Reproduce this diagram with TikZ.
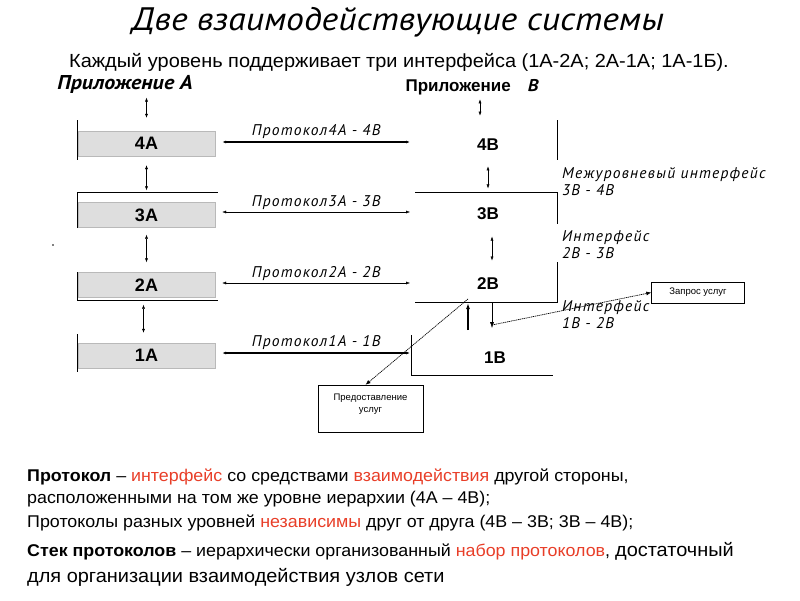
\documentclass[tikz,border=0pt]{standalone}
\usepackage{fontspec}
\setmainfont{Liberation Sans}
\newfontfamily\widefont[FakeStretch=1.05]{Liberation Sans}
\newfontfamily\cursivefont[FakeStretch=1.1]{PT Sans}
\newfontfamily\labelfont[LetterSpace=8]{PT Sans}
\usetikzlibrary{arrows.meta,positioning}
\definecolor{layergray}{RGB}{222,222,222}
\definecolor{keyred}{RGB}{232,62,40}
\newcommand{\kw}[1]{\textcolor{keyred}{#1}}

\tikzset{
  layer/.style={draw=gray!55, fill=layergray, minimum width=137pt, minimum height=25pt,
    inner sep=0pt, font=\bfseries\fontsize{18}{18}\selectfont},
  blabel/.style={font=\bfseries\fontsize{17}{17}\selectfont},
  proto/.style={font=\labelfont\itshape\fontsize{15.5}{15.5}\selectfont, above=-1pt, midway},
  side/.style={font=\labelfont\itshape\fontsize{15.5}{17}\selectfont, align=left, anchor=north west, inner sep=0pt},
  link/.style={{Latex[length=4pt,width=3pt]}-{Latex[length=4pt,width=3pt]}},
  smallbox/.style={draw, font=\fontsize{9.5}{11.5}\selectfont},
  service/.style={dash pattern=on 1.2pt off 0.7pt, line width=0.7pt, -{Latex[length=5pt,width=4pt]}},
  textline/.style={anchor=west, inner sep=0pt, font=\widefont\fontsize{17}{18}\selectfont}
}

\begin{document}
\begin{tikzpicture}[x=1pt,y=-1pt]
\useasboundingbox (0,0) rectangle (800,600);

% header
\node[font=\cursivefont\itshape\fontsize{32.5}{32.5}\selectfont] (title) at (398,22) {Две взаимодействующие системы};
\node[font=\widefont\fontsize{19}{19}\selectfont] (subtitle) at (399,62)
  {Каждый уровень поддерживает три интерфейса (1А-2А; 2А-1А; 1А-1Б).};
\node[font=\cursivefont\bfseries\itshape\fontsize{20}{20}\selectfont] (appA) at (125,84) {Приложение А};
\node[font=\bfseries\fontsize{17}{17}\selectfont] (appB) at (472,87) {Приложение\quad{\cursivefont\itshape В}};

% system A
\node[layer] (l4a) at (146.5,143.5) {4А};
\node[layer] (l3a) at (146.5,215) {3А};
\node[layer] (l2a) at (146.5,285) {2А};
\node[layer] (l1a) at (146.5,355.5) {1А};
\draw (77,120) -- (77,160);
\draw (77,228) -- (77,192) -- (218,192);
\draw (77,272) -- (77,300) -- (218,300);
\draw (77,334) -- (77,372);
\node[circle, fill, inner sep=0.7pt] (dot) at (53,245) {};

% system B
\node[blabel] (l4b) at (488,145) {4В};
\node[blabel] (l3b) at (488,214) {3В};
\node[blabel] (l2b) at (488,284) {2В};
\node[blabel] (l1b) at (495,358) {1В};
\draw (557,120) -- (557,160);
\draw (415,192) -- (557,192) -- (557,224);
\draw (557,262) -- (557,302) -- (415,302);
\draw (411,335) -- (411,375) -- (553,375);

% vertical interfaces
\draw[link, shorten <=1pt, shorten >=13pt] (appA.south -| l4a.north) -- (l4a.north);
\draw[link, shorten <=9pt, shorten >=12pt] (l4a.south) -- (l3a.north);
\draw[link, shorten <=7pt, shorten >=10pt] (l3a.south) -- (l2a.north);
\draw[link, shorten <=7pt, shorten >=10pt] ([xshift=-3pt]l2a.south) -- ([xshift=-3pt]l1a.north);
\draw[link, shorten <=1pt, shorten >=20pt] ([xshift=-8pt]appB.south -| l4b.north) -- ([xshift=-8pt]l4b.north);
\draw[link, shorten <=12pt, shorten >=16pt] (l4b.south) -- (l3b.north);
\draw[link, shorten <=13pt, shorten >=14pt] ([xshift=4pt]l3b.south) -- ([xshift=4pt]l2b.north);

% protocols
\coordinate (p4) at (410,142);
\coordinate (p3) at (410,212);
\coordinate (p2) at (410,283);
\coordinate (p1) at (410,353);
\draw[link, line width=1.5pt] ([xshift=7pt]l4a.east |- p4) -- node[proto] {Протокол4А - 4В} (p4);
\draw[link] ([xshift=7pt]l3a.east |- p3) -- node[proto] {Протокол3А - 3В} (p3);
\draw[link] ([xshift=7pt]l2a.east |- p2) -- node[proto] {Протокол2А - 2В} (p2);
\draw[link, line width=1.5pt] ([xshift=7pt]l1a.east |- p1) -- node[proto] {Протокол1А - 1В} (p1);

% service boxes
\node[smallbox, minimum width=93pt, minimum height=21pt] (request) at (698,292.5) {Запрос услуг};
\node[draw, minimum width=105pt, minimum height=47pt] (provide) at (370.5,408.5) {};
\node[smallbox, draw=none, align=center, below=6pt of provide.north] (providetext) {Предоставление\\услуг};

\coordinate (upbot) at (468,330);
\coordinate (uptop) at (468,303);
\coordinate (dntop) at (492,303);
\coordinate (dnbot) at (492,328);
\coordinate (dnmid) at (492,325);
\draw[-{Latex[length=6pt,width=4pt]}, line width=1.2pt] (upbot) -- (uptop);
\draw[-{Latex[length=6pt,width=4pt]}] (dntop) -- (dnbot);
\draw[service] ([yshift=4pt]uptop) -- ([xshift=-5pt]provide.north);
\draw[service] (dnmid) -- (request.west);

% interface labels
\node[side] (ifc34) at (562,167) {Межуровневый интерфейс\\3В - 4В};
\node[side] (ifc23) at (562,230) {Интерфейс\\2В - 3В};
\node[side] (ifc12) at (562,300) {Интерфейс\\1В - 2В};

% notes
\node[textline] (note1) at (27,477) {\textbf{Протокол} – \kw{интерфейс} со средствами \kw{взаимодействия} другой стороны,};
\node[textline] (note2) at (27,499) {расположенными на том же уровне иерархии (4А – 4В);};
\node[textline] (note3) at (27,523) {Протоколы разных уровней \kw{независимы} друг от друга (4В – 3В; 3В – 4В);};
\node[textline] (note4) at (27,551) {\textbf{Стек протоколов} – иерархически организованный \kw{набор протоколов}, {\fontsize{19}{19}\selectfont достаточный}};
\node[textline, font=\widefont\fontsize{19}{19}\selectfont] (note5) at (27,577) {для организации взаимодействия узлов сети};
\end{tikzpicture}
\end{document}
